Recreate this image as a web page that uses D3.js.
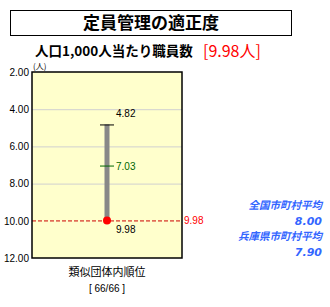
<!DOCTYPE html>
<html>
<head>
<meta charset="utf-8">
<script src="https://cdn.jsdelivr.net/npm/d3@7"></script>
<style>
  body { margin: 0; background: #fff; }
  svg { display: block; font-family: "Noto Sans CJK JP", "Noto Sans", sans-serif; }
</style>
</head>
<body>
<svg id="chart" width="330" height="307"></svg>
<script>
// 値
const categories = ['類似団体内順位'];
const yTicks = [2, 4, 6, 8, 10, 12];
const maxValues = [4.82];
const avgValues = [7.03];
const ownValues = [9.98];
const minValues = [9.98];
const rankLabels = ['[ 66/66 ]'];
const refLabels = ['全国市町村平均', '兵庫県市町村平均'];
const refValues = [8.00, 7.90];

const svg = d3.select('#chart');
const fmt = d3.format('.2f');

// タイトル
svg.append('rect')
  .attr('x', 10.5).attr('y', 10.5)
  .attr('width', 281).attr('height', 25)
  .attr('fill', '#fff').attr('stroke', '#000');
svg.append('text')
  .attr('x', 151).attr('y', 29)
  .attr('text-anchor', 'middle')
  .attr('font-size', 17).attr('font-weight', 'bold')
  .text('定員管理の適正度');
svg.append('text')
  .attr('x', 35).attr('y', 56)
  .attr('font-size', 13.5).attr('font-weight', 'bold')
  .text('人口1,000人当たり職員数');
svg.append('text')
  .attr('x', 203).attr('y', 57)
  .attr('font-size', 16).attr('fill', '#ff0000')
  .text(`[${fmt(ownValues[0])}人]`);

const pLeft = 32, pRight = 182, pTop = 72, pBottom = 258;
const y = d3.scaleLinear().domain([2, 12]).range([pTop, pBottom]);
const x = d3.scaleBand().domain(categories).range([pLeft, pRight]);
const cx = c => x(c) + x.bandwidth() / 2;

// 背景
svg.append('rect')
  .attr('x', pLeft).attr('y', pTop)
  .attr('width', pRight - pLeft).attr('height', pBottom - pTop)
  .attr('fill', '#ffffcc');

// グリッド
svg.append('g').selectAll('line')
  .data(yTicks.filter(d => d > 2 && d < 12 && d !== 10))
  .enter().append('line')
  .attr('x1', pLeft).attr('x2', pRight)
  .attr('y1', d => y(d) + 0.5).attr('y2', d => y(d) + 0.5)
  .attr('stroke', '#d0d0d0');

// y軸
const yAxis = d3.axisLeft(y).tickValues(yTicks).tickFormat(fmt).tickSize(0).tickPadding(3);
const ax = svg.append('g').attr('transform', `translate(${pLeft},0)`).call(yAxis);
ax.select('.domain').remove();
ax.selectAll('.tick text')
  .attr('font-size', 10)
  .attr('font-family', '"Liberation Sans", Arial, sans-serif')
  .attr('fill', '#000');
svg.append('text')
  .attr('x', 33).attr('y', 69)
  .attr('font-size', 8)
  .text('(人)');

// 自団体ライン
svg.append('line')
  .attr('x1', pLeft).attr('x2', pRight)
  .attr('y1', y(ownValues[0]) + 0.5).attr('y2', y(ownValues[0]) + 0.5)
  .attr('stroke', '#cc0000').attr('stroke-dasharray', '4,2');
svg.append('text')
  .attr('x', pRight + 2).attr('y', y(ownValues[0]) + 4)
  .attr('font-size', 10).attr('fill', '#ff0000')
  .attr('font-family', '"Liberation Sans", Arial, sans-serif')
  .text(fmt(ownValues[0]));

// レンジバー
const g = svg.append('g');
categories.forEach((c, i) => {
  const px = cx(c);
  g.append('rect')
    .attr('x', px - 2.5).attr('y', y(maxValues[i]))
    .attr('width', 5).attr('height', y(minValues[i]) - y(maxValues[i]))
    .attr('fill', '#888888');
  g.append('line')
    .attr('x1', px - 7).attr('x2', px + 7)
    .attr('y1', y(maxValues[i]) + 0.5).attr('y2', y(maxValues[i]) + 0.5)
    .attr('stroke', '#000');
  g.append('line')
    .attr('x1', px - 7).attr('x2', px + 7)
    .attr('y1', y(avgValues[i]) + 0.5).attr('y2', y(avgValues[i]) + 0.5)
    .attr('stroke', '#006600');
  g.append('circle')
    .attr('cx', px).attr('cy', y(ownValues[i]))
    .attr('r', 4).attr('fill', '#ff0000');
  g.append('text')
    .attr('x', px + 9).attr('y', y(maxValues[i]) - 7)
    .attr('font-size', 10).attr('font-family', '"Liberation Sans", Arial, sans-serif')
    .text(fmt(maxValues[i]));
  g.append('text')
    .attr('x', px + 9).attr('y', y(avgValues[i]) + 4)
    .attr('font-size', 10).attr('fill', '#006600')
    .attr('font-family', '"Liberation Sans", Arial, sans-serif')
    .text(fmt(avgValues[i]));
  g.append('text')
    .attr('x', px + 9).attr('y', y(minValues[i]) + 13)
    .attr('font-size', 10).attr('font-family', '"Liberation Sans", Arial, sans-serif')
    .text(fmt(minValues[i]));
  svg.append('text')
    .attr('x', px).attr('y', 276)
    .attr('text-anchor', 'middle').attr('font-size', 11)
    .text(c);
  svg.append('text')
    .attr('x', px).attr('y', 292)
    .attr('text-anchor', 'middle').attr('font-size', 10)
    .attr('font-family', '"Liberation Sans", Arial, sans-serif')
    .text(rankLabels[i]);
});

// 枠
svg.append('rect')
  .attr('x', pLeft).attr('y', pTop)
  .attr('width', pRight - pLeft).attr('height', pBottom - pTop)
  .attr('fill', 'none').attr('stroke', '#000').attr('stroke-width', 1.5);

// 参考値
const ref = svg.append('g')
  .attr('font-style', 'italic').attr('font-weight', 'bold')
  .attr('fill', '#3366ff').attr('text-anchor', 'end');
refLabels.forEach((lab, i) => {
  ref.append('text')
    .attr('x', 322).attr('y', 209 + i * 31)
    .attr('font-size', 10.5)
    .text(lab);
  ref.append('text')
    .attr('x', 322).attr('y', 225 + i * 31)
    .attr('font-size', 11)
    .attr('font-family', '"DejaVu Sans", sans-serif')
    .text(fmt(refValues[i]));
});
</script>
</body>
</html>
